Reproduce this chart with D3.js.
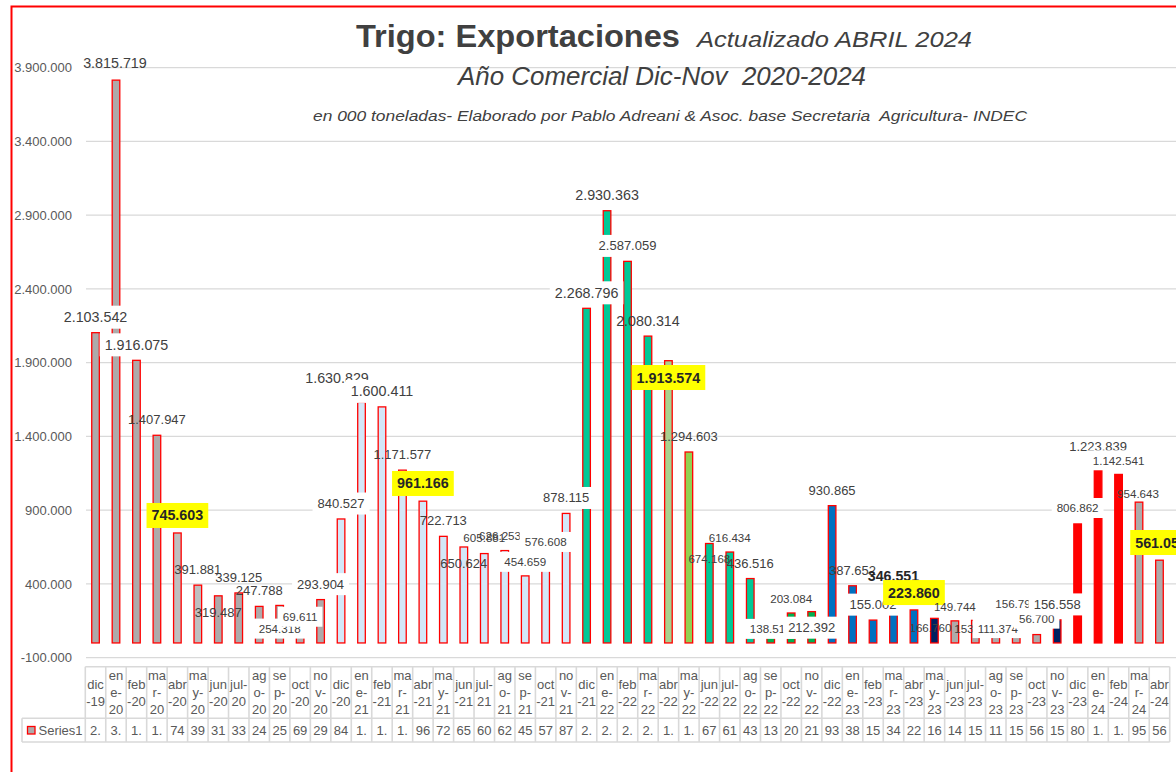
<!DOCTYPE html>
<html>
<head>
<meta charset="utf-8">
<script src="https://cdn.jsdelivr.net/npm/d3@7"></script>
<style>
  html, body { margin: 0; padding: 0; background: #fff; overflow: hidden; }
  svg { display: block; font-family: "Liberation Sans", Arial, sans-serif; }
</style>
</head>
<body>
<svg id="chart" width="1176" height="772"></svg>
<script>
// ---------------- DATA ----------------
const categories = [
  "dic-19","ene-20","feb-20","mar-20","abr-20","may-20","jun-20","jul-20","ago-20","sep-20","oct-20","nov-20",
  "dic-20","ene-21","feb-21","mar-21","abr-21","may-21","jun-21","jul-21","ago-21","sep-21","oct-21","nov-21",
  "dic-21","ene-22","feb-22","mar-22","abr-22","may-22","jun-22","jul-22","ago-22","sep-22","oct-22","nov-22",
  "dic-22","ene-23","feb-23","mar-23","abr-23","may-23","jun-23","jul-23","ago-23","sep-23","oct-23","nov-23",
  "dic-23","ene-24","feb-24","mar-24","abr-24"
];
const series1 = [
  2103542, 3815719, 1916075, 1407947, 745603, 391881, 319487, 339125, 247788, 254318, 69611, 293904,
  840527, 1630829, 1600411, 1171577, 961166, 722713, 650624, 605881, 626253, 454659, 576608, 878115,
  2268796, 2930363, 2587059, 2080314, 1913574, 1294603, 674168, 616434, 436516, 138512, 203084, 212392,
  930865, 387652, 155002, 346551, 223860, 166760, 149744, 153108, 111374, 156792, 56700, 156558,
  806862, 1223839, 1142541, 954643, 561050
];
const seriesName = "Series1";
const yTicks = [-100000, 400000, 900000, 1400000, 1900000, 2400000, 2900000, 3400000, 3900000];
const titleMain = "Trigo: Exportaciones";
const titleUpdate = "Actualizado ABRIL 2024";
const subtitle1 = "Año Comercial Dic-Nov  2020-2024";
const subtitle2 = "en 000 toneladas- Elaborado por Pablo Adreani & Asoc. base Secretaria  Agricultura- INDEC";

// ---------------- STYLE / LAYOUT ----------------
const C = {
  gray: "#aeaaaa", lgray: "#bfbfbf", lblue: "#d3e7f8", teal: "#00c896", lgreen: "#a9d18e",
  green2: "#92d050", green: "#00b050", blue: "#0070c0", navy: "#002060", red: "#ff0000"
};
const colorRuns = [ // [fromIndex, toIndex, color]
  [0, 3, C.gray], [4, 5, C.lgray], [6, 11, C.gray], [12, 23, C.lblue], [24, 27, C.teal],
  [28, 28, C.lgreen], [29, 29, C.green2], [30, 32, C.teal], [33, 35, C.green], [36, 40, C.blue],
  [41, 41, C.navy], [42, 46, C.gray], [47, 47, C.navy], [48, 50, C.red], [51, 52, C.gray]
];
function fillFor(i) { for (const r of colorRuns) if (i >= r[0] && i <= r[1]) return r[2]; return C.gray; }

// label appearance: size classes, white boxes, highlights, nudges
const sizeL = [0,1,2,13,14,24,25,27];
const sizeS = [9,10,19,20,21,22,30,31,33,34,41,42,43,44,45,46,48,50,51];
const whiteBox = [0,2,9,10,11,12,14,21,22,23,24,26,33,35,38,44,46,47,48,50];
const yellow = [4,16,28,40,52];
const boldOnly = [39];
const nudge = {1:[-1,-17],4:[0,-17.5],6:[0,17],9:[0,23.6],13:[-24.5,-24],16:[0,-17.7],18:[0,16.3],
  20:[-4.7,-15],21:[0,-13.6],28:[0,16.8],30:[0,15.8],31:[0,-13.7],33:[0,6.8],34:[0,-13.7],35:[0,16],
  40:[0,-17.4],41:[-4,9.3],42:[0,-14.2],43:[0,8.9],44:[2,2],50:[0,-13.7],51:[-1,-8],52:[1.6,-17.7]};

const locale = d3.formatLocale({decimal: ",", thousands: ".", grouping: [3], currency: ["$", ""], minus: "-"});
const fmt = locale.format(",.0f");

// ---------------- DRAW ----------------
const svg = d3.select("#chart");

// outer chart border (extends past window right/bottom)
svg.append("rect").attr("x", 11.5).attr("y", 6.5).attr("width", 1300).attr("height", 900)
  .attr("fill", "none").attr("stroke", "#ff0000").attr("stroke-width", 2);

const x = d3.scaleBand().domain(categories).range([85.3, 1169.7]).padding(0);
const y = d3.scaleLinear().domain([-100000, 3900000]).range([657.7, 67.7]);

// gridlines
svg.append("g").selectAll("line").data(yTicks).join("line")
  .attr("x1", 86).attr("x2", 1300)
  .attr("y1", d => y(d)).attr("y2", d => y(d))
  .attr("stroke", "#d9d9d9").attr("stroke-width", 1.3);

// y axis
const yAxis = svg.append("g").attr("transform", "translate(75,0)")
  .call(d3.axisLeft(y).tickValues(yTicks).tickSize(0).tickPadding(3).tickFormat(fmt));
yAxis.select(".domain").remove();
yAxis.selectAll("text").attr("font-size", 13).attr("fill", "#595959")
  .attr("font-family", "'Liberation Sans', Arial, sans-serif");

// titles
function titleText(txt, xPos, yPos, size, weight, style, len) {
  svg.append("text").attr("x", xPos).attr("y", yPos).text(txt)
    .attr("font-size", size).attr("font-weight", weight).attr("font-style", style)
    .attr("fill", "#404040").style("white-space", "pre")
    .attr("textLength", len).attr("lengthAdjust", "spacingAndGlyphs");
}
titleText(titleMain, 356, 47, 31, "bold", "normal", 324);
titleText(titleUpdate, 697, 47, 22, "normal", "italic", 275);
titleText(subtitle1, 458, 85, 25, "normal", "italic", 408);
titleText(subtitle2, 313, 121, 15, "normal", "italic", 714);

// bars
const bw = 7.6;
svg.append("g").selectAll("rect").data(series1).join("rect")
  .attr("x", (d, i) => x(categories[i]) + x.bandwidth() / 2 - bw / 2)
  .attr("width", bw)
  .attr("y", d => y(d))
  .attr("height", d => y(0) - y(d))
  .attr("fill", (d, i) => fillFor(i))
  .attr("stroke", "#ff0000").attr("stroke-width", 1.3);

// data labels
const lg = svg.append("g");
series1.forEach((v, i) => {
  const n = nudge[i] || [0, -15.5];
  const cx = x(categories[i]) + x.bandwidth() / 2 + n[0];
  const cy = y(v) + n[1];
  const isY = yellow.includes(i), isB = boldOnly.includes(i);
  const size = isY ? 14.3 : isB ? 14.2 : sizeL.includes(i) ? 14.3 : sizeS.includes(i) ? 11.6 : 13;
  const g = lg.append("g");
  const t = g.append("text").attr("x", cx).attr("y", cy).attr("dy", "0.35em")
    .attr("text-anchor", "middle").attr("font-size", size)
    .attr("font-weight", (isY || isB) ? "bold" : "normal")
    .attr("fill", (isY || isB) ? "#262626" : "#404040")
    .text(fmt(v));
  if (isY || whiteBox.includes(i)) {
    const bb = t.node().getBBox();
    const px = 5, py = isY ? 4.5 : 3.5;
    g.insert("rect", "text").attr("x", bb.x - px).attr("y", bb.y - py)
      .attr("width", bb.width + 2 * px).attr("height", bb.height + 2 * py)
      .attr("fill", isY ? "#ffff00" : "#ffffff");
  }
});

// data table
const tTop = 666.7, tMid = 718.3, tBot = 742, tLeft = 22;
const tg = svg.append("g");
const bounds = categories.map(c => x(c)).concat([x.range()[1]]);
tg.selectAll("line.v").data(bounds).join("line").attr("class", "v")
  .attr("x1", d => d).attr("x2", d => d).attr("y1", tTop).attr("y2", tBot)
  .attr("stroke", "#d9d9d9").attr("stroke-width", 1.6);
tg.append("line").attr("x1", tLeft).attr("x2", tLeft).attr("y1", tMid).attr("y2", tBot)
  .attr("stroke", "#d9d9d9").attr("stroke-width", 1.6);
[[85.3, tTop], [tLeft, tMid], [tLeft, tBot]].forEach(([x0, yy]) => {
  tg.append("line").attr("x1", x0).attr("x2", x.range()[1]).attr("y1", yy).attr("y2", yy)
    .attr("stroke", "#d9d9d9").attr("stroke-width", 1.6);
});

function wrapCat(c) {
  const [m, yy] = c.split("-");
  if (["dic", "feb", "abr", "jun", "oct"].includes(m)) return [m, "-" + yy];
  if (m === "jul") return ["jul-", yy];
  return [m.slice(0, 2), m.slice(2) + "-", yy];
}
categories.forEach((c, i) => {
  const lines = wrapCat(c);
  const cx = x(c) + x.bandwidth() / 2;
  const mid = (tTop + tMid) / 2;
  const lh = 17;
  const t = tg.append("text").attr("text-anchor", "middle").attr("font-size", 13).attr("fill", "#595959");
  lines.forEach((ln, k) => {
    t.append("tspan").attr("x", cx).attr("y", mid + (k - (lines.length - 1) / 2) * lh).attr("dy", "0.35em").text(ln);
  });
  tg.append("text").attr("x", cx).attr("y", (tMid + tBot) / 2).attr("dy", "0.35em")
    .attr("text-anchor", "middle").attr("font-size", 13).attr("fill", "#595959")
    .text(fmt(series1[i]).slice(0, 2));
});

// legend key in table
tg.append("rect").attr("x", 27.5).attr("y", 726.5).attr("width", 7.5).attr("height", 7.5)
  .attr("fill", C.gray).attr("stroke", "#ff0000").attr("stroke-width", 1.3);
tg.append("text").attr("x", 38.5).attr("y", (tMid + tBot) / 2).attr("dy", "0.35em")
  .attr("font-size", 13).attr("fill", "#595959").text(seriesName);
</script>
</body>
</html>
